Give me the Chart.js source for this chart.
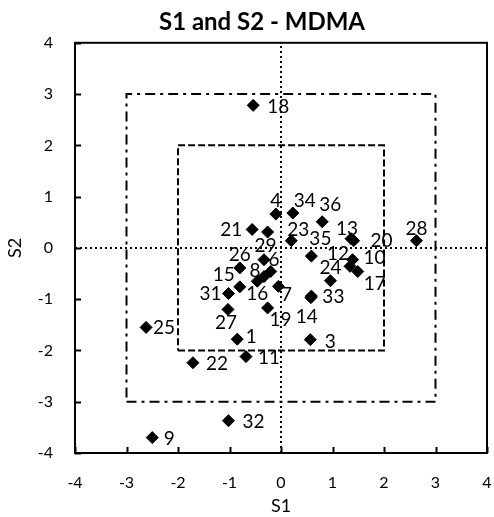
<!DOCTYPE html>
<html>
<head>
<meta charset="utf-8">
<title>S1 and S2 - MDMA</title>
<script src="https://cdn.jsdelivr.net/npm/chart.js@4/dist/chart.umd.min.js"></script>
<style>
  html, body { margin: 0; padding: 0; background: #fff; overflow: hidden; }
  canvas { display: block; }
</style>
</head>
<body>
<canvas id="scoreChart" width="494" height="517"></canvas>
<script>
// sample numbers with their S1 / S2 scores ('' = point without a visible number)
const sampleLabels = ['1', '3', '4', '6', '7', '8', '9', '10', '11', '12', '13', '14',
  '15', '16', '17', '18', '19', '20', '21', '22', '23', '24', '25', '26', '27', '28',
  '29', '31', '32', '33', '34', '35', '36', ''];
const s1Values = [-0.85, 0.57, -0.10, -0.33, -0.05, -0.33, -2.50, 1.39, -0.68, 1.34, 1.36, 0.58,
  -0.80, -0.46, 1.49, -0.54, -0.26, 1.41, -0.56, -1.71, 0.20, 0.96, -2.62, -0.80, -1.03, 2.63,
  -0.26, -1.02, -1.02, 0.59, 0.23, 0.59, 0.80, -0.20];
const s2Values = [-1.78, -1.79, 0.66, -0.23, -0.75, -0.56, -3.70, -0.23, -2.12, -0.36, 0.18, -0.97,
  -0.76, -0.65, -0.46, 2.78, -1.17, 0.14, 0.36, -2.24, 0.14, -0.64, -1.55, -0.39, -1.20, 0.14,
  0.31, -0.89, -3.37, -0.94, 0.68, -0.16, 0.51, -0.46];

// axis range and the two limit boxes
const axisMin = -4;
const axisMax = 4;
const innerLimit = 2;
const outerLimit = 3;

// where each number sits relative to its marker (text centre, px)
const labelOffsets = {
  '1': [14, -2], '3': [20, 2], '4': [0, -13], '6': [10, 0], '7': [8, 9], '8': [-9, -6],
  '9': [17, 1], '10': [22, -2], '11': [23, 1], '12': [-12, -12], '13': [-4, -10],
  '14': [-4, 19], '15': [-16, -12], '16': [0, 13], '17': [17, 12], '18': [25, 2],
  '19': [13, 12], '20': [28, 0], '21': [-21, 0], '22': [24, 1], '23': [7, -11],
  '24': [0, -13], '25': [18, 0], '26': [0, -13], '27': [-2, 13], '28': [0, -12],
  '29': [-2, 14], '31': [-18, 0], '32': [25, 1], '33': [22, 1], '34': [12, -12],
  '35': [9, -17], '36': [8, -17]
};

const FONT = 'Lato, "Open Sans", sans-serif';

function boxPath(l) {
  return [{x: -l, y: -l}, {x: l, y: -l}, {x: l, y: l}, {x: -l, y: l}, {x: -l, y: -l}];
}

function refLine(data, dash) {
  return {
    data: data,
    showLine: true,
    borderColor: '#000',
    borderWidth: 2,
    borderDash: dash,
    pointRadius: 0,
    fill: false,
    tension: 0
  };
}

const scorePoints = s1Values.map((x, i) => ({x: x, y: s2Values[i]}));

// numbers next to the markers
const pointLabels = {
  id: 'pointLabels',
  afterDatasetsDraw(chart) {
    const ctx = chart.ctx;
    const meta = chart.getDatasetMeta(0);
    ctx.save();
    ctx.font = '19px ' + FONT;
    ctx.fillStyle = '#000';
    ctx.textAlign = 'center';
    ctx.textBaseline = 'middle';
    meta.data.forEach((pt, i) => {
      const txt = sampleLabels[i];
      if (!txt) return;
      const off = labelOffsets[txt] || [14, 0];
      ctx.fillText(txt, pt.x + off[0], pt.y + off[1]);
    });
    ctx.restore();
  }
};

// plot frame plus short inward tick marks
const plotFrame = {
  id: 'plotFrame',
  afterDraw(chart) {
    const {ctx, chartArea: a, scales} = chart;
    ctx.save();
    ctx.strokeStyle = '#000';
    ctx.lineWidth = 2;
    ctx.strokeRect(a.left, a.top, a.right - a.left, a.bottom - a.top);
    ctx.beginPath();
    scales.x.ticks.forEach(t => {
      const px = Math.round(scales.x.getPixelForValue(t.value)) + 0.5;
      ctx.moveTo(px, a.bottom);
      ctx.lineTo(px, a.bottom - 6);
    });
    scales.y.ticks.forEach(t => {
      const py = Math.round(scales.y.getPixelForValue(t.value)) + 0.5;
      ctx.moveTo(a.left, py);
      ctx.lineTo(a.left + 6, py);
    });
    ctx.stroke();
    ctx.restore();
  }
};

new Chart(document.getElementById('scoreChart'), {
  type: 'scatter',
  data: {
    datasets: [
      {
        data: scorePoints,
        pointStyle: 'rectRot',
        pointRadius: 6,
        backgroundColor: '#000',
        borderColor: '#000',
        borderWidth: 1
      },
      refLine([{x: axisMin, y: 0}, {x: axisMax, y: 0}], [2, 3]),
      refLine([{x: 0, y: axisMin}, {x: 0, y: axisMax}], [2, 3]),
      refLine(boxPath(innerLimit), [7, 3]),
      refLine(boxPath(outerLimit), [10, 5, 3, 5])
    ]
  },
  options: {
    responsive: false,
    animation: false,
    devicePixelRatio: 1,
    layout: { padding: { left: 30, right: 0, top: 0, bottom: 0 } },
    plugins: {
      legend: { display: false },
      tooltip: { enabled: false },
      title: {
        display: true,
        text: 'S1 and S2 - MDMA',
        color: '#000',
        font: { family: FONT, size: 24, weight: 'bold' },
        padding: { top: 8, bottom: 6 }
      }
    },
    scales: {
      x: {
        type: 'linear',
        min: axisMin,
        max: axisMax,
        // grid hidden; tickLength only spaces the labels away from the axis
        grid: { display: false, drawTicks: true, tickLength: 20 },
        border: { display: false },
        ticks: { stepSize: 1, color: '#000', padding: 0, font: { family: FONT, size: 16 } },
        title: {
          display: true,
          text: 'S1',
          color: '#000',
          font: { family: FONT, size: 18 },
          padding: { top: 0, bottom: 0 }
        },
        afterFit(scale) { scale.height = 64; }
      },
      y: {
        type: 'linear',
        min: axisMin,
        max: axisMax,
        grid: { display: false, drawTicks: true, tickLength: 22 },
        border: { display: false },
        ticks: { stepSize: 1, color: '#000', padding: 0, font: { family: FONT, size: 16 } },
        title: {
          display: true,
          text: 'S2',
          color: '#000',
          font: { family: FONT, size: 18 },
          padding: { top: -26, bottom: 0 }
        },
        afterFit(scale) { scale.width = 45; }
      }
    }
  },
  plugins: [pointLabels, plotFrame]
});
</script>
</body>
</html>
